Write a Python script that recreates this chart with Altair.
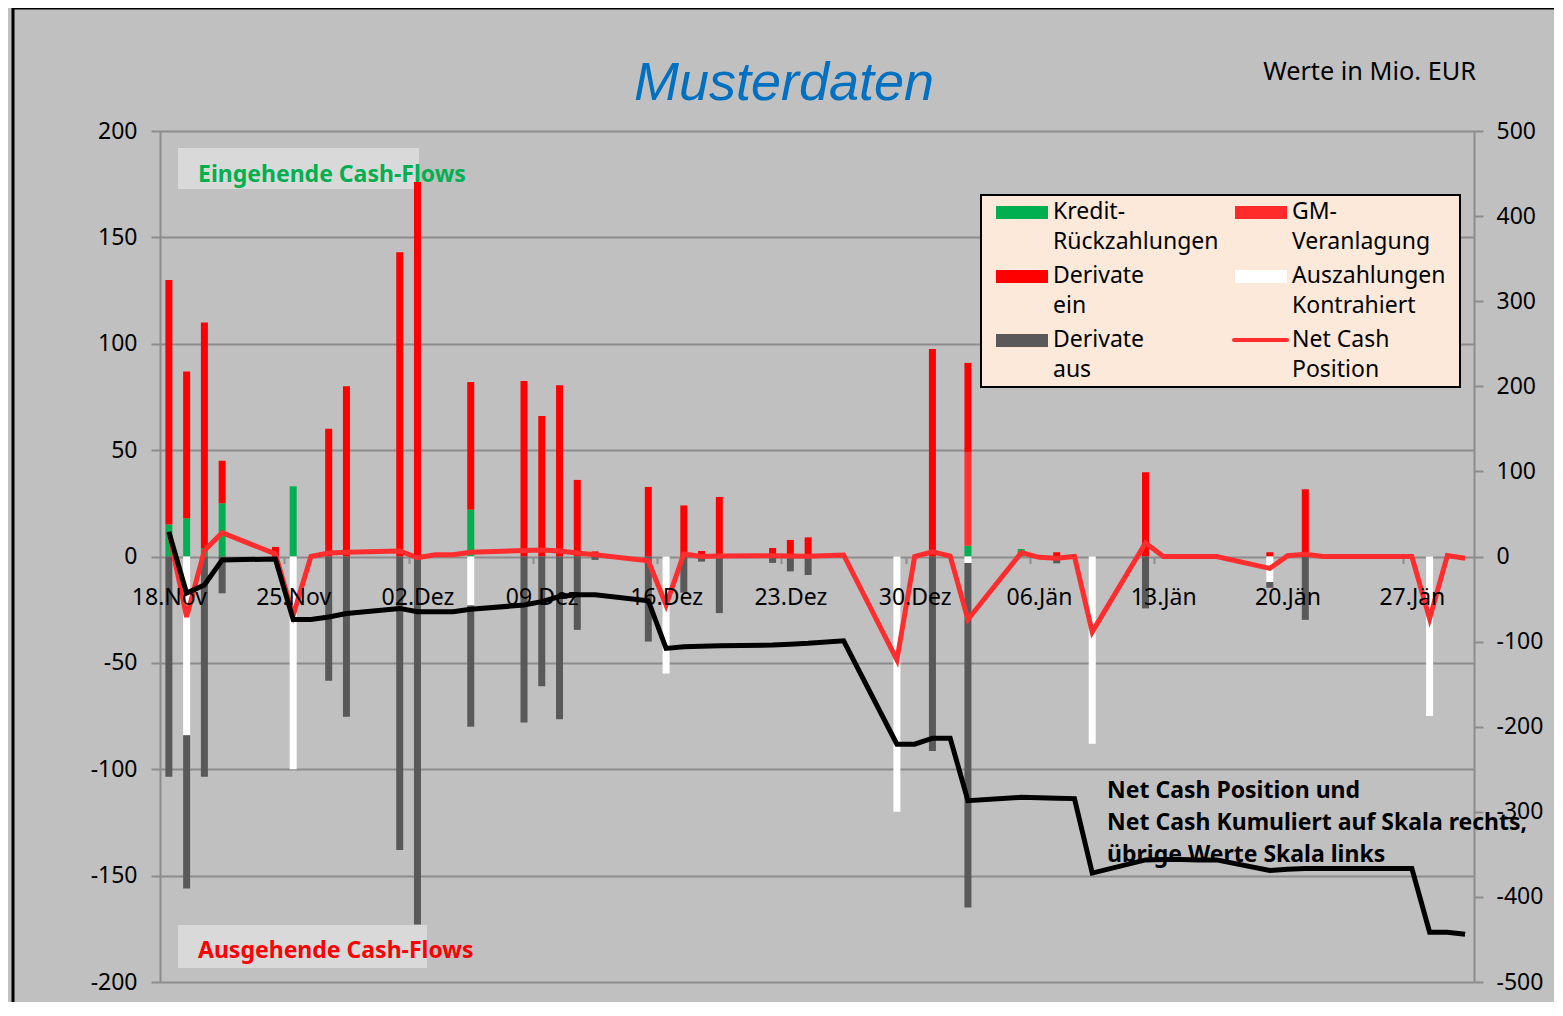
import altair as alt
import pandas as pd

# ---------------- data ----------------
tick_labels = ["18.Nov", "25.Nov", "02.Dez", "09.Dez", "16.Dez", "23.Dez",
               "30.Dez", "06.Jän", "13.Jän", "20.Jän", "27.Jän"]

# day index counted from 18 Nov
bar_days = [0, 1, 2, 3,
            6, 7, 9, 10,
            13, 14, 17,
            20, 21, 22, 23, 24,
            27, 28, 29, 30, 31,
            34, 35, 36,
            41, 43, 45,
            48, 50, 52,
            55, 62, 64, 71]

kredit = [15, 18, 4, 25,
          0, 33, 0, 0,
          0, 0, 22,
          0, 0, 0, 0, 0,
          0, 0, 0, 0, 0,
          0, 0, 0,
          0, 0, 5,
          3.5, 0, 0,
          0, 0, 0, 0]

gm_veranlagung = [0, 0, 0, 0,
                  0, 0, 0, 0,
                  0, 0, 0,
                  0, 0, 0, 0, 0,
                  0, 0, 0, 0, 0,
                  0, 0, 0,
                  0, 0, 44,
                  0, 0, 0,
                  0, 0, 0, 0]

derivate_ein = [115, 69, 106, 20,
                4.5, 0, 60, 80,
                143, 176, 60,
                82.5, 66, 80.5, 36, 2.4,
                32.7, 0, 24, 2.6, 28,
                4, 7.8, 9,
                0, 97.5, 42,
                0, 2, 0,
                39.6, 2, 31.6, 0]

auszahlungen = [0, -84, 0, 0,
                0, -100, 0, 0,
                0, 0, -23,
                0, 0, 0, 0, 0,
                0, -55, 0, 0, 0,
                0, 0, 0,
                -120, 0, -3,
                0, 0, -88,
                0, -12, 0, -75]

derivate_aus = [-103.5, -72, -103.5, -17.3,
                0, 0, -58.4, -75.3,
                -138, -173, -57,
                -78, -61, -76.5, -34.5, -1.6,
                -40, 0, -17, -2.4, -26.6,
                -3, -7, -8.7,
                0, -91.4, -162,
                0, -3.2, 0,
                -24.4, -2.7, -29.8, 0]

line_days = [0, 1, 2, 3,
             6, 7, 8, 9, 10,
             13, 14, 15, 16, 17,
             20, 21, 22, 23, 24,
             27, 28, 29, 30, 31,
             34, 35, 36, 38,
             41, 42, 43, 44, 45,
             48, 49, 50, 51, 52,
             55, 56, 57, 58, 59,
             62, 63, 64, 65, 66,
             69, 70, 71, 72, 73]

net_cash = [29, -71, 7, 28,
            3, -69, 0, 4, 5,
            6.5, -1.5, 2, 2, 5,
            7, 7.5, 6.5, 4, 2,
            -5, -57, 3, 0, 0.5,
            1, 0.7, 0.3, 1.8,
            -121.5, 0, 5.5, 0.5, -74,
            4.5, -1, -2, 0, -88.5,
            16, 0, 0, 0, 0,
            -14, 1, 2.5, 0, 0,
            0, 0, -73, 1, -2]

net_cash_kum = [29, -43, -33.5, -4,
                -3, -74, -74, -71, -67,
                -61, -65, -65, -65, -62,
                -57, -53, -47, -45, -45,
                -52, -108, -106, -105.5, -105,
                -104, -103, -102, -99,
                -220.5, -220.5, -213.5, -213.5, -287,
                -283, -283.5, -284, -284.5, -372,
                -356.5, -356, -356, -356.5, -356.5,
                -369, -367.5, -366.5, -366.5, -366.5,
                -366.5, -366.5, -441.5, -441.5, -444]

series_names = ["Kredit-Rückzahlungen", "GM-Veranlagung", "Derivate ein",
                "Auszahlungen Kontrahiert", "Derivate aus"]
series_values = [kredit, gm_veranlagung, derivate_ein, auszahlungen, derivate_aus]
series_colors = ["#00B050", "#FF3030", "#FF0000", "#FFFFFF", "#595959"]

legend_col1 = [("Kredit-", "Rückzahlungen"), ("Derivate", "ein"), ("Derivate", "aus")]
legend_col2 = [("GM-", "Veranlagung"), ("Auszahlungen", "Kontrahiert"), ("Net Cash", "Position")]
legend_col1_colors = ["#00B050", "#FF0000", "#595959"]
legend_col2_colors = ["#FF2B2B", "#FFFFFF", "#FF2D2D"]

note_lines = ["Net Cash Position und",
              "Net Cash Kumuliert auf Skala rechts,",
              "übrige Werte Skala links"]

# ---------------- tables ----------------
rows = []
for order, (name, vals) in enumerate(zip(series_names, series_values)):
    for d, v in zip(bar_days, vals):
        if v != 0:
            rows.append({"day": d, "value": v, "series": name, "ord": order})
bar_df = pd.DataFrame(rows)

net_df = pd.DataFrame({"day": line_days, "value": net_cash})
kum_df = pd.DataFrame({"day": line_days, "value": net_cash_kum})
one = pd.DataFrame({"k": [0]})

# ---------------- layout ----------------
W, H = 1314, 851
X0, Y0 = 160, 131          # page position of the plot origin
FONT = "Noto Sans"
GRID = "#8C8C8C"


def px(x):
    return x - X0


def py(y):
    return y - Y0


xscale = alt.Scale(domain=[-0.5, 73.5], nice=False, zero=False, padding=0)
zero_offset = -(H / 2.0)
label_expr = "[" + ",".join("'%s'" % t for t in tick_labels) + "][round(datum.value / 7)]"

bars = alt.Chart(bar_df).mark_bar(size=7).encode(
    x=alt.X("day:Q", scale=xscale,
            axis=alt.Axis(orient="bottom", offset=zero_offset,
                          values=[7 * i for i in range(len(tick_labels))],
                          labelExpr=label_expr, domain=False, ticks=False, tickSize=0,
                          grid=False, labelFontSize=23, labelFont=FONT,
                          labelColor="black", labelPadding=48,
                          labelBaseline="alphabetic", labelFlush=False,
                          labelOverlap=False, zindex=1, title=None)),
    y=alt.Y("value:Q", stack="zero",
            scale=alt.Scale(domain=[-200, 200], nice=False, zero=False),
            axis=alt.Axis(orient="left", values=list(range(-200, 201, 50)),
                          grid=True, gridColor=GRID, gridWidth=2,
                          domain=True, domainColor=GRID, domainWidth=2,
                          ticks=True, tickSize=9, tickColor=GRID, tickWidth=2,
                          labelFontSize=23, labelFont=FONT, labelColor="black",
                          labelPadding=14, labelExpr="'' + datum.value", title=None)),
    color=alt.Color("series:N",
                    scale=alt.Scale(domain=series_names, range=series_colors),
                    legend=None),
    order=alt.Order("ord:Q"),
)

yr_scale = alt.Scale(domain=[-500, 500], nice=False, zero=False)
x_tick_axis = alt.Axis(orient="bottom", offset=zero_offset,
                       values=[6.5 + 7 * i for i in range(10)],
                       labels=False, domain=False, ticks=True, tickSize=7,
                       tickColor=GRID, tickWidth=2, grid=False, title=None)
y_right_axis = alt.Axis(orient="right", values=list(range(-500, 501, 100)),
                        grid=False, domain=True, domainColor=GRID, domainWidth=2,
                        ticks=True, tickSize=9, tickColor=GRID, tickWidth=2,
                        labelFontSize=23, labelFont=FONT, labelColor="black",
                        labelPadding=13, labelExpr="'' + datum.value", title=None)

net_line = alt.Chart(net_df).mark_line(strokeWidth=5, color="#FF2D2D").encode(
    x=alt.X("day:Q", scale=xscale, axis=x_tick_axis),
    y=alt.Y("value:Q", scale=yr_scale, axis=y_right_axis),
)

kum_line = alt.Chart(kum_df).mark_line(strokeWidth=5, color="black").encode(
    x=alt.X("day:Q", scale=xscale, axis=x_tick_axis),
    y=alt.Y("value:Q", scale=yr_scale, axis=y_right_axis),
)

lines = alt.layer(net_line, kum_line)


def rect(x1, y1, x2, y2, **kw):
    return alt.Chart(one).mark_rect(**kw).encode(
        x=alt.value(px(x1)), x2=alt.value(px(x2)),
        y=alt.value(py(y1)), y2=alt.value(py(y2)))


def text(t, x, y, **kw):
    return alt.Chart(one).mark_text(**kw).encode(
        x=alt.value(px(x)), y=alt.value(py(y)), text=alt.value(t))


layers = []
# outer frame
layers.append(rect(13, 8, 1600, 1050, fillOpacity=0, stroke="black", strokeWidth=3))
# annotation boxes
layers.append(rect(178, 148, 419, 189, color="#D9D9D9"))
layers.append(rect(178, 925, 427, 968, color="#D9D9D9"))
layers.append(bars)
layers.append(lines)
layers.append(text("Eingehende Cash-Flows", 198, 175, font=FONT, fontSize=23,
                   fontWeight="bold", color="#00B050", align="left", baseline="middle"))
layers.append(text("Ausgehende Cash-Flows", 198, 951, font=FONT, fontSize=23,
                   fontWeight="bold", color="#FF0000", align="left", baseline="middle"))
for i, line in enumerate(note_lines):
    layers.append(text(line, 1107, 791 + 32 * i, font=FONT, fontSize=23,
                       fontWeight="bold", color="black", align="left",
                       baseline="middle"))
# title and unit note
layers.append(text("Musterdaten", 784, 100, font="Liberation Sans", fontSize=54,
                   fontStyle="italic", color="#0070C0", align="center",
                   baseline="alphabetic"))
layers.append(text("Werte in Mio. EUR", 1476, 80, font=FONT, fontSize=25.3,
                   color="black", align="right", baseline="alphabetic"))

# legend
layers.append(rect(981, 195, 1460, 387, color="#FDE9D9", stroke="black", strokeWidth=2))
row_y = [212, 276, 340]
for col, (entries, colors, sx, tx) in enumerate([
        (legend_col1, legend_col1_colors, 996, 1053),
        (legend_col2, legend_col2_colors, 1235, 1292)]):
    for r, ((l1, l2), c) in enumerate(zip(entries, colors)):
        yc = row_y[r]
        if col == 1 and r == 2:
            layers.append(alt.Chart(one).mark_rule(color=c, strokeWidth=4,
                                                   strokeCap="round").encode(
                x=alt.value(px(sx - 1)), x2=alt.value(px(sx + 52)),
                y=alt.value(py(yc))))
        else:
            layers.append(rect(sx, yc - 6, sx + 52, yc + 7, color=c))
        layers.append(text(l1, tx, yc, font=FONT, fontSize=23, color="black",
                           align="left", baseline="middle"))
        layers.append(text(l2, tx, yc + 30, font=FONT, fontSize=23, color="black",
                           align="left", baseline="middle"))

chart = alt.layer(*layers).resolve_scale(
    x="independent", y="independent", color="independent"
).properties(
    width=W, height=H,
    padding={"left": X0 - 8, "top": Y0 - 8, "right": 80, "bottom": 20},
    autosize=alt.AutoSizeParams(type="none"),
    background="#C0C0C0",
).configure_view(stroke="transparent")

chart.save("out.html", embed_options={"renderer": "svg", "actions": False})
